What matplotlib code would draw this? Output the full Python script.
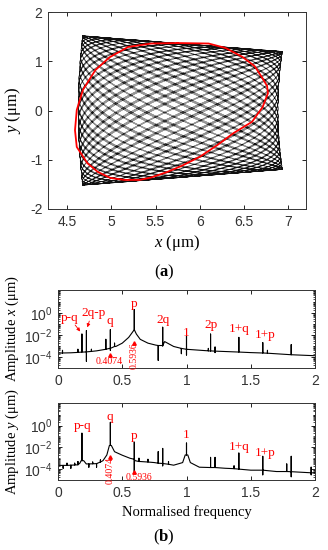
import matplotlib
matplotlib.use('Agg')
import matplotlib.pyplot as plt
from matplotlib import ticker
import numpy as np

plt.rcParams['font.family'] = 'Liberation Serif'
plt.rcParams['mathtext.fontset'] = 'custom'
plt.rcParams['mathtext.rm'] = 'Liberation Serif'
plt.rcParams['mathtext.it'] = 'Liberation Serif:italic'
plt.rcParams['mathtext.bf'] = 'Liberation Serif:bold'
plt.rcParams['mathtext.sf'] = 'Liberation Sans'

p_freq, q_freq = 0.5936, 0.4074
x_center, x_amp, x_2q_amp = 5.78, 1.13, 0.025
y_amp_mean, y_amp_mod = 1.36, 0.16
t_span = 120

# red closed orbit
red_x = [5.75, 6.10, 6.29, 6.48, 6.62, 6.70, 6.76, 6.77, 6.71, 6.59, 6.38, 6.20,
         6.00, 5.80, 5.63, 5.45, 5.32, 5.15, 4.99, 4.85, 4.73, 4.61, 4.59, 4.61,
         4.68, 4.82, 4.98, 5.19, 5.45, 5.75]
red_y = [1.37, 1.36, 1.27, 1.09, 0.90, 0.68, 0.50, 0.35, 0.07, -0.23, -0.46, -0.70,
         -0.94, -1.12, -1.25, -1.36, -1.41, -1.41, -1.37, -1.25, -1.07, -0.74, -0.40, 0.01,
         0.42, 0.82, 1.08, 1.29, 1.36, 1.37]

# ---- panel (b): spectra
# baseline (freq, amplitude)
bx_f = [0.0, 0.1, 0.2, 0.3, 0.4, 0.45, 0.5, 0.55, 0.575, 0.61, 0.64, 0.7, 0.76,
        0.83, 0.9, 1.0, 1.2, 1.5, 2.0]
bx_a = [2.2e-4, 2.4e-4, 2.8e-4, 3.6e-4, 6e-4, 9e-4, 1.8e-3, 6e-3, 1.5e-2, 1.2e-2, 4e-3, 1.8e-3, 1.2e-3,
        2.5e-3, 9e-4, 5e-4, 3.5e-4, 2.5e-4, 1.3e-4]
# peaks (freq, foot, top, dip)
px_peaks = [(0.035, 2.3e-4, 4e-4, 2.3e-4), (0.155, 2.6e-4, 5e-4, 2.6e-4),
            (0.1862, 2.8e-4, 1.2e-2, 2.8e-4), (0.2212, 2.9e-4, 2.5e-2, 4e-5),
            (0.26, 3.2e-4, 5e-4, 3.2e-4), (0.3724, 5e-4, 4e-3, 5e-4),
            (0.4074, 6e-4, 3e-2, 4e-4), (0.44, 9e-4, 1.8e-3, 9e-4),
            (0.5936, 3e-2, 2.0, 3e-2), (0.7798, 1.1e-3, 1.1e-3, 5e-5),
            (0.8148, 1.1e-3, 5e-2, 1e-3), (0.96, 6e-4, 6e-4, 2e-4),
            (1.0, 5e-4, 8e-3, 1.5e-4), (1.17, 3.6e-4, 6e-4, 3.6e-4),
            (1.1872, 3.5e-4, 1.2e-2, 3.5e-4), (1.2222, 3.4e-4, 8e-4, 2.5e-4),
            (1.4074, 2.8e-4, 6e-3, 2.8e-4), (1.5936, 2.3e-4, 2e-3, 2.3e-4),
            (1.63, 2.2e-4, 4e-4, 2.2e-4), (1.8148, 1.6e-4, 1.3e-3, 1.6e-4)]

by_f = [0.0, 0.15, 0.17, 0.18, 0.2, 0.22, 0.3, 0.35, 0.38, 0.4, 0.415, 0.44, 0.5,
        0.56, 0.6, 0.64, 0.75, 0.9, 0.97, 0.99, 1.01, 1.03, 1.1, 1.3, 1.5, 1.7, 2.0]
by_a = [2.2e-4, 2.5e-4, 3.5e-4, 6e-4, 6e-4, 3e-4, 3.2e-4, 6e-4, 2e-3, 1.5e-2, 1.5e-2, 4e-3, 1.9e-3,
        1e-3, 6e-4, 5e-4, 4e-4, 2.3e-4, 4e-4, 2e-3, 2e-3, 4e-4, 1.5e-4, 1.2e-4, 8e-5, 6e-5, 4.5e-5]
py_peaks = [(0.04, 2.2e-4, 2.2e-4, 1.2e-4), (0.07, 2.2e-4, 3.5e-4, 2.2e-4),
            (0.10, 2.3e-4, 2.3e-4, 1.2e-4), (0.13, 2.4e-4, 3.5e-4, 2.4e-4),
            (0.155, 2.5e-4, 5e-4, 2.5e-4), (0.1862, 6e-4, 0.2, 6e-4),
            (0.24, 3e-4, 3e-4, 1.5e-4), (0.27, 3.1e-4, 4.5e-4, 3.1e-4),
            (0.30, 3.2e-4, 3.2e-4, 1.5e-4), (0.33, 4.5e-4, 7e-4, 4.5e-4),
            (0.4074, 1.5e-2, 2.0, 1.5e-2), (0.5936, 8e-4, 3e-2, 6e-5),
            (0.63, 5e-4, 1e-3, 5e-4), (0.70, 4.5e-4, 8e-4, 4.5e-4),
            (0.7798, 3.5e-4, 4e-3, 3.5e-4), (0.8148, 3.3e-4, 8e-3, 2e-4),
            (0.86, 2.8e-4, 5e-4, 2.8e-4), (1.0, 2e-3, 2.5e-2, 2e-3),
            (1.1872, 1.4e-4, 1.2e-3, 1.4e-4), (1.2222, 1.4e-4, 1.2e-3, 1.4e-4),
            (1.37, 1.1e-4, 2e-4, 1.1e-4), (1.4074, 1.0e-4, 3e-3, 1.0e-4),
            (1.5936, 8e-5, 1.5e-3, 3e-5), (1.78, 6e-5, 3e-4, 6e-5),
            (1.8148, 5.8e-5, 1.5e-3, 2e-5), (1.97, 4.6e-5, 1.5e-4, 3e-5)]

# labels (text, freq, amplitude)
x_labels = [('p-q', 0.09, 10**-0.45), ('2q-p', 0.28, 10**0.0), ('q', 0.40, 10**-0.7),
            ('p', 0.59, 10**0.8), ('2q', 0.82, 10**-0.6), ('1', 1.0, 10**-1.8),
            ('2p', 1.19, 10**-1.1), ('1+q', 1.41, 10**-1.5), ('1+p', 1.61, 10**-2.0)]
y_labels = [('p-q', 0.19, 10**0.0), ('q', 0.40, 10**0.8), ('p', 0.59, 10**-1.0),
            ('1', 1.0, 10**-0.9), ('1+q', 1.41, 10**-2.0), ('1+p', 1.61, 10**-2.5)]


def merge(bf, ba, peaks):
    pts = [(f, 0, [a]) for f, a in zip(bf, ba)]
    pts += [(pk[0], 1, [pk[1], pk[2], pk[3], pk[1]]) for pk in peaks]
    pts.sort(key=lambda r: (r[0], r[1]))
    f, a = [], []
    for fr, _, vals in pts:
        for v in vals:
            f.append(fr)
            a.append(v)
    return f, a


fig = plt.figure(figsize=(3.28, 5.5), dpi=100)
W, H = 328., 550.


def box(l, t, r, b):
    return [l / W, 1 - b / H, (r - l) / W, (b - t) / H]


def style(ax):
    ax.tick_params(direction='in', top=True, right=True, length=3, width=0.6,
                   labelsize=10, pad=4, which='major')
    ax.tick_params(direction='in', top=True, right=True, length=1.6, width=0.5, which='minor')
    for s in ax.spines.values():
        s.set_linewidth(0.7)
        s.set_color('#333333')
    for lab in ax.get_xticklabels() + ax.get_yticklabels():
        lab.set_family('Liberation Sans')
        lab.set_color('#333333')


# panel (a)
ax1 = fig.add_axes(box(48, 12, 306, 209))
t = np.linspace(0, t_span, 60000)
cp = np.cos(2 * np.pi * p_freq * t)
cq = np.cos(2 * np.pi * q_freq * t)
traj_x = x_center - x_amp * cp + x_2q_amp * np.cos(4 * np.pi * q_freq * t)
traj_y = (y_amp_mean + y_amp_mod * cp) * cq
ax1.plot(traj_x, traj_y, color='#111111', lw=0.28)
ax1.plot(red_x, red_y, color='red', lw=1.3)
ax1.set_xlim(4.285, 7.2)
ax1.set_ylim(-2, 2)
ax1.set_xticks([4.5, 5, 5.5, 6, 6.5, 7])
ax1.set_xticklabels(['4.5', '5', '5.5', '6', '6.5', '7'])
ax1.set_yticks([-2, -1, 0, 1, 2])
ax1.set_yticklabels(['-2', '-1', '0', '1', '2'])
style(ax1)
ax1.set_xlabel('$x$ (μm)', fontsize=12, labelpad=3)
ax1.set_ylabel('$y$ (μm)', fontsize=12, labelpad=5)
fig.text(0.5, 1 - 272 / H, '($\\mathbf{a}$)', ha='center', va='center', fontsize=12)


def spectrum(ax, f, a, labels):
    ax.semilogy(f, a, color='black', lw=0.8)
    ax.set_xlim(0, 2)
    ax.set_ylim(1e-5, 1.2e2)
    ax.set_xticks([0, 0.5, 1, 1.5, 2])
    ax.set_xticklabels(['0', '0.5', '1', '1.5', '2'])
    ax.yaxis.set_major_locator(ticker.FixedLocator([1e-4, 1e-2, 1e0]))
    ax.set_yticklabels(['$\\mathsf{10^{-4}}$', '$\\mathsf{10^{-2}}$', '$\\mathsf{10^{0}}$'])
    ax.yaxis.set_minor_locator(ticker.LogLocator(base=10, subs=np.arange(1, 10), numticks=20))
    ax.yaxis.set_minor_formatter(ticker.NullFormatter())
    style(ax)
    for txt, fx, fy in labels:
        ax.text(fx, fy, txt, color='red', fontsize=9.5, ha='center', va='center')


ax2 = fig.add_axes(box(58, 290, 315, 368))
fx, ax_ = merge(bx_f, bx_a, px_peaks)
spectrum(ax2, fx, ax_, x_labels)
ax2.set_ylabel('Amplitude $x$ (μm)', fontsize=10.5, labelpad=2)
ax2.annotate('', xy=(0.186, 1.3e-2), xytext=(0.12, 10**-0.9),
             arrowprops=dict(arrowstyle='-|>', color='red', lw=0.6, mutation_scale=5))
ax2.annotate('', xy=(0.222, 2.8e-2), xytext=(0.25, 10**-0.5),
             arrowprops=dict(arrowstyle='-|>', color='red', lw=0.6, mutation_scale=5))
ax2.plot([0.4074], [1.6e-4], marker='^', color='red', ms=2.5)
ax2.text(0.40, 10**-4.45, '0.4074', color='red', fontsize=7, ha='center', va='center')
ax2.plot([0.5936], [2e-3], marker='^', color='red', ms=2.5)
ax2.text(0.5936, 10**-3.85, '0.5936', color='red', fontsize=7, ha='center', va='center',
         rotation=90)

ax3 = fig.add_axes(box(58, 403, 315, 480))
fy, ay = merge(by_f, by_a, py_peaks)
spectrum(ax3, fy, ay, y_labels)
ax3.set_ylabel('Amplitude $y$ (μm)', fontsize=10.5, labelpad=2)
ax3.plot([0.4074], [1.2e-3], marker='^', color='red', ms=2.5)
ax3.text(0.4074, 10**-4.15, '0.4074', color='red', fontsize=7, ha='center', va='center',
         rotation=90)
ax3.plot([0.5936], [5e-5], marker='^', color='red', ms=2.5)
ax3.text(0.63, 10**-4.75, '0.5936', color='red', fontsize=7, ha='center', va='center')
ax3.set_xlabel('Normalised frequency', fontsize=10.5, labelpad=4)
fig.text(0.5, 1 - 537 / H, '($\\mathbf{b}$)', ha='center', va='center', fontsize=12)

fig.savefig('out.png', dpi=100)
